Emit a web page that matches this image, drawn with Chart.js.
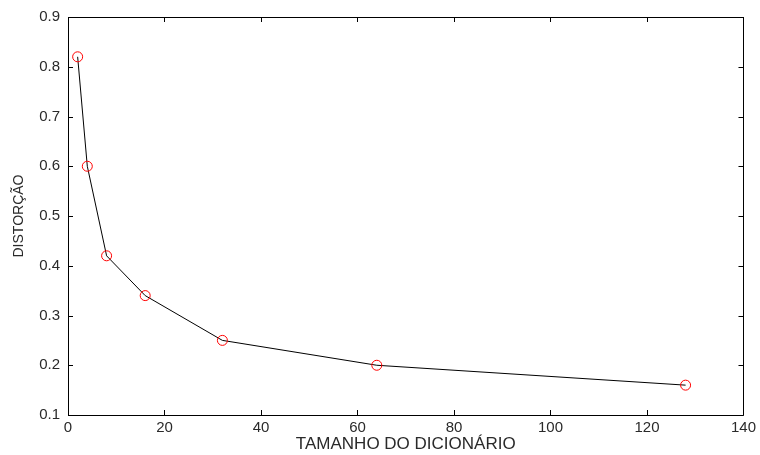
<!DOCTYPE html>
<html>
<head>
<meta charset="utf-8">
<script src="https://cdn.jsdelivr.net/npm/chart.js@4/dist/chart.umd.min.js"></script>
<style>
    html, body { margin: 0; padding: 0; background: #fff; }
    #wrap { width: 760px; height: 455px; }
</style>
</head>
<body>
<div id="wrap"><canvas id="myChart" width="760" height="455"></canvas></div>
<script>
// données
const tailles = [2, 4, 8, 16, 32, 64, 128];
const distorsions = [0.82, 0.60, 0.42, 0.34, 0.25, 0.20, 0.16];
const xTicks = [0, 20, 40, 60, 80, 100, 120, 140];
const yTicks = [0.1, 0.2, 0.3, 0.4, 0.5, 0.6, 0.7, 0.8, 0.9];

const textColor = "#2a2a2a";
const police = "'Liberation Sans', Arial, sans-serif";

// cadre et graduations vers l'intérieur (style matlab)
const cadrePlugin = {
    id: 'cadre',
    afterDraw(chart) {
        const ctx = chart.ctx;
        const a = chart.chartArea;
        const sx = chart.scales.x;
        const sy = chart.scales.y;
        const tl = 5;
        ctx.save();
        ctx.strokeStyle = "#000";
        ctx.lineWidth = 1;
        ctx.beginPath();
        ctx.rect(Math.round(a.left) + 0.5, Math.round(a.top) + 0.5,
                 Math.round(a.right - a.left), Math.round(a.bottom - a.top));
        xTicks.forEach(v => {
            const px = Math.round(sx.getPixelForValue(v)) + 0.5;
            ctx.moveTo(px, a.bottom); ctx.lineTo(px, a.bottom - tl);
            ctx.moveTo(px, a.top); ctx.lineTo(px, a.top + tl);
        });
        yTicks.forEach(v => {
            const py = Math.round(sy.getPixelForValue(v)) + 0.5;
            ctx.moveTo(a.left, py); ctx.lineTo(a.left + tl, py);
            ctx.moveTo(a.right, py); ctx.lineTo(a.right - tl, py);
        });
        ctx.stroke();
        ctx.restore();
    }
};

const points = tailles.map((t, i) => ({ x: t, y: distorsions[i] }));

const config = {
    type: 'scatter',
    data: {
        datasets: [{
            data: points,
            showLine: true,
            borderColor: "#000",
            borderWidth: 1,
            pointRadius: 5,
            pointHoverRadius: 5,
            pointBorderColor: "#ff0000",
            pointBackgroundColor: "rgba(0,0,0,0)",
            pointBorderWidth: 1
        }]
    },
    options: {
        responsive: false,
        animation: false,
        layout: { padding: { left: 0, top: 14, right: 16, bottom: 0 } },
        plugins: {
            legend: { display: false },
            tooltip: { enabled: false }
        },
        scales: {
            x: {
                type: 'linear',
                min: 0,
                max: 140,
                afterBuildTicks: s => { s.ticks = xTicks.map(v => ({ value: v })); },
                afterFit: s => { s.height = 40; },
                grid: { display: false, drawTicks: false },
                border: { display: false },
                ticks: {
                    color: textColor,
                    padding: 4,
                    font: { family: police, size: 15 }
                },
                title: {
                    display: true,
                    text: "TAMANHO DO DICIONÁRIO",
                    color: textColor,
                    padding: { top: 0, bottom: 0 },
                    font: { family: police, size: 17 }
                }
            },
            y: {
                type: 'linear',
                min: 0.1,
                max: 0.9,
                afterBuildTicks: s => { s.ticks = yTicks.map(v => ({ value: v })); },
                afterFit: s => { s.width = 68; },
                grid: { display: false, drawTicks: false },
                border: { display: false },
                ticks: {
                    color: textColor,
                    padding: 8,
                    font: { family: police, size: 15 },
                    callback: v => v.toFixed(1)
                },
                title: {
                    display: true,
                    text: "DISTORÇÃO",
                    color: textColor,
                    padding: { top: 11, bottom: 0 },
                    font: { family: police, size: 14 }
                }
            }
        }
    },
    plugins: [cadrePlugin]
};

const myChart = new Chart(document.getElementById('myChart'), config);
</script>
</body>
</html>
